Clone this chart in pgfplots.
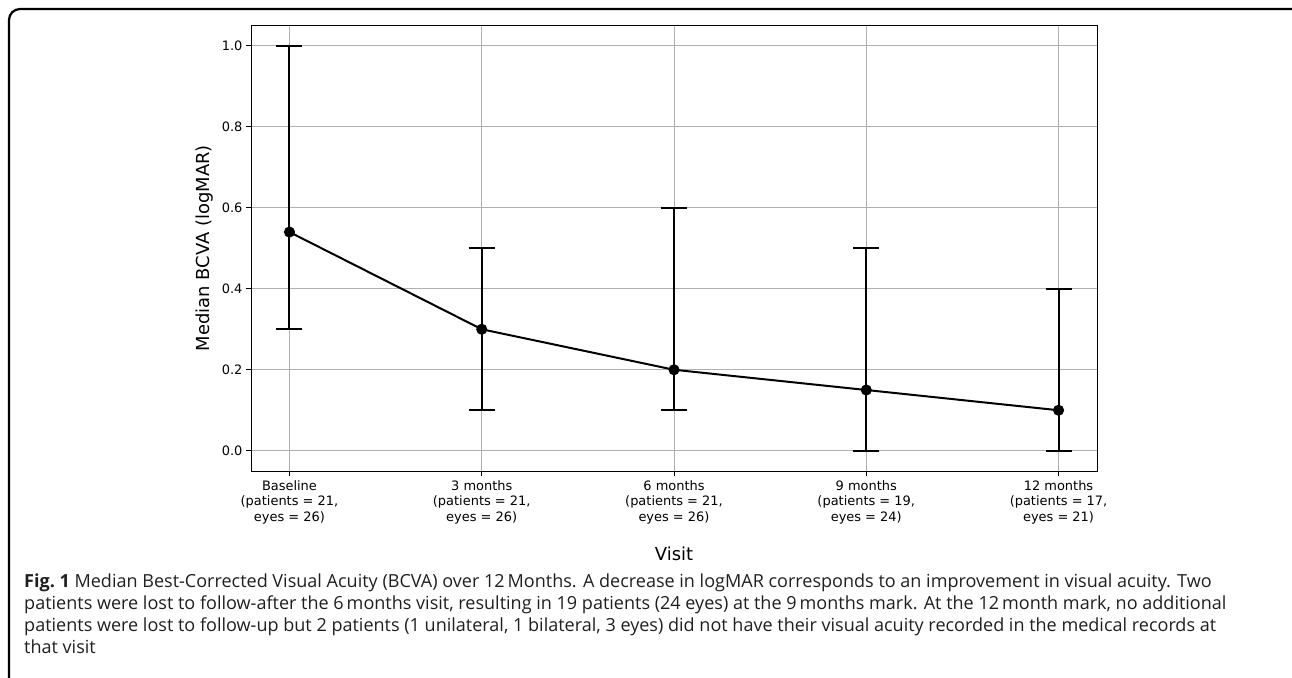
\documentclass[border=0pt]{standalone}
\usepackage{fontspec}
\setmainfont{DejaVu Sans}
\newfontfamily\capfont{Open Sans}
\usepackage{pgfplots}
\pgfplotsset{compat=1.18}

\begin{document}
\begin{tikzpicture}
\useasboundingbox (0,0) rectangle (1292bp,-678bp);
% figure frame, running off the right and bottom edges
\begin{scope}
\clip (0,0) rectangle (1292bp,-678bp);
\draw[line width=2.2bp, rounded corners=11bp] (9bp,-9bp) rectangle (1303bp,-700bp);
\end{scope}

\begin{axis}[
    at={(251bp,-471bp)}, anchor=south west,
    width=846bp, height=445.5bp, scale only axis,
    xmin=-0.2, xmax=4.2, ymin=-0.05, ymax=1.05,
    xtick={0,1,2,3,4},
    xticklabels={
        {Baseline\\(patients = 21,\\eyes = 26)},
        {3 months\\(patients = 21,\\eyes = 26)},
        {6 months\\(patients = 21,\\eyes = 26)},
        {9 months\\(patients = 19,\\eyes = 24)},
        {12 months\\(patients = 17,\\eyes = 21)}},
    ytick={0,0.2,0.4,0.6,0.8,1.0},
    yticklabel style={/pgf/number format/.cd, fixed, fixed zerofill, precision=1},
    /pgf/number format/assume math mode=true,
    xtick pos=bottom, ytick pos=left,
    grid=major,
    grid style={line width=0.9bp, draw=black!31},
    axis line style={line width=1bp, black},
    tick align=outside, major tick length=5bp,
    tick style={line width=1bp, black},
    ticklabel style={font=\fontsize{13}{15.6}\selectfont},
    xticklabel style={align=center, yshift=-1bp},
    xlabel={Visit},
    ylabel={Median BCVA (logMAR)},
    label style={font=\fontsize{18}{21}\selectfont},
    xlabel style={at={(axis description cs:0.5,-0.186)}, anchor=center},
    ylabel style={at={(axis description cs:-0.055,0.5)}, anchor=center},
]
\addplot[black, line width=2bp, mark=*, mark size=4.5bp,
    error bars/.cd, y dir=both, y explicit,
    error bar style={line width=2bp, black},
    error mark options={black, line width=2bp, mark size=13bp, rotate=90}]
coordinates {
    (0,0.54) += (0,0.46) -= (0,0.24)
    (1,0.30) += (0,0.20) -= (0,0.20)
    (2,0.20) += (0,0.40) -= (0,0.10)
    (3,0.15) += (0,0.35) -= (0,0.15)
    (4,0.10) += (0,0.30) -= (0,0.10)
};
\end{axis}

% caption
\begin{scope}[every node/.style={anchor=base west, inner sep=0pt, text=black!88,
    font=\capfont\fontsize{18.1}{22}\selectfont}]
\node at (24bp,-587bp) {\textbf{Fig.\ 1} Median Best-Corrected Visual Acuity (BCVA) over 12\,Months. A decrease in logMAR corresponds to an improvement in visual acuity. Two};
\node at (24bp,-609bp) {patients were lost to follow-after the 6\,months visit, resulting in 19 patients (24 eyes) at the 9\,months mark. At the 12\,month mark, no additional};
\node at (24bp,-631bp) {patients were lost to follow-up but 2 patients (1 unilateral, 1 bilateral, 3 eyes) did not have their visual acuity recorded in the medical records at};
\node at (24bp,-653bp) {that visit};
\end{scope}
\end{tikzpicture}
\end{document}
